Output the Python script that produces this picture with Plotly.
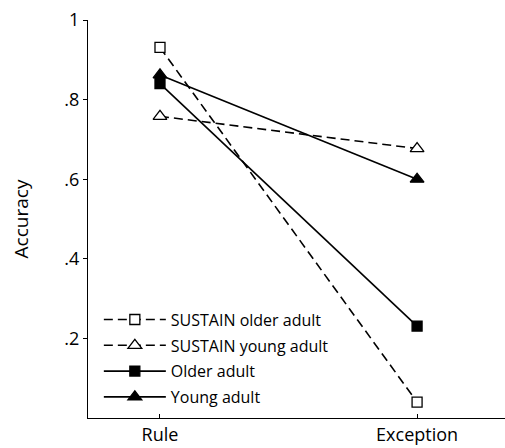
import plotly.graph_objects as go

categories = ["Rule", "Exception"]
sustain_older = [0.931, 0.040]
sustain_young = [0.758, 0.677]
older_adult = [0.840, 0.231]
young_adult = [0.862, 0.600]
y_tick_vals = [0.2, 0.4, 0.6, 0.8, 1.0]
y_tick_text = [".2", ".4", ".6", ".8", "1"]

xpos = [0, 1]
fig = go.Figure()
series = [
    ("SUSTAIN older adult", sustain_older, "dash", "square", "white", 10),
    ("SUSTAIN young adult", sustain_young, "dash", "triangle-up", "white", 12),
    ("Older adult", older_adult, "solid", "square", "black", 10),
    ("Young adult", young_adult, "solid", "triangle-up", "black", 12),
]
for i, (name, vals, dash, sym, fill, size) in enumerate(series):
    fig.add_trace(go.Scatter(
        x=xpos, y=vals, name=name, mode="lines+markers", legendgroup=f"g{i}",
        line=dict(color="black", width=1.6, dash="9px,5px" if dash == "dash" else "solid"),
        marker=dict(symbol=sym, size=size, color=fill, line=dict(color="black", width=1.3)),
    ))

fig.update_layout(
    width=505, height=448,
    margin=dict(l=88, r=0, t=20, b=30),
    plot_bgcolor="white", paper_bgcolor="white",
    font=dict(family="Open Sans, Lato, sans-serif", size=16, color="black"),
    showlegend=True,
    legend=dict(x=0.026, y=0.29, xanchor="left", yanchor="top", bgcolor="rgba(0,0,0,0)",
                font=dict(size=16), itemwidth=62, tracegroupgap=2, traceorder="grouped"),
    xaxis=dict(range=[-0.28, 1.342], tickvals=xpos, ticktext=categories,
               showline=True, linecolor="black", linewidth=1.3, ticks="inside",
               ticklen=4, tickcolor="black", showgrid=False, zeroline=False,
               tickfont=dict(size=18), automargin=False),
    yaxis=dict(range=[0, 1], tickvals=y_tick_vals, ticktext=y_tick_text,
               showline=True, linecolor="black", linewidth=1.3, ticks="outside",
               ticklen=4, tickcolor="black", showgrid=False, zeroline=False,
               title=dict(text="Accuracy", standoff=30, font=dict(size=19)),
               tickfont=dict(size=18), automargin=False),
)
fig.write_html("out.html", config={"displayModeBar": False},
               post_script="document.body.style.margin='0';")
